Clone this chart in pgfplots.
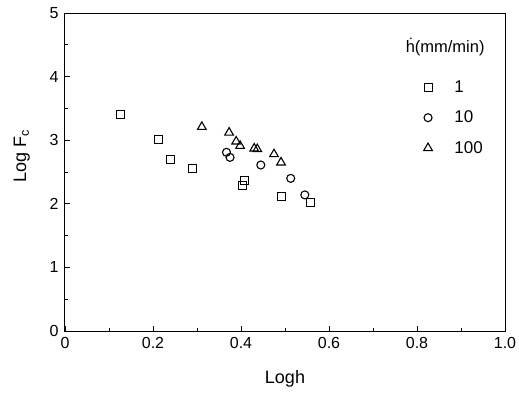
\documentclass[border=0pt]{standalone}
\usepackage{fontspec}
\setmainfont{Liberation Sans}
\usepackage{pgfplots}
\pgfplotsset{compat=1.18}
\begin{document}
\begin{tikzpicture}
\useasboundingbox (0pt,0pt) rectangle (519pt,392pt);
\begin{axis}[
  at={(65pt,61pt)}, anchor=south west,
  scale only axis, width=440pt, height=318pt,
  xmin=0, xmax=1, ymin=0, ymax=5,
  xtick={0,0.2,0.4,0.6,0.8,1.0},
  xticklabels={0,0.2,0.4,0.6,0.8,1.0},
  minor xtick={0.1,0.3,0.5,0.7,0.9},
  ytick={0,1,2,3,4,5},
  minor ytick={0.5,1.5,2.5,3.5,4.5},
  tick align=inside,
  xtick pos=bottom, ytick pos=left,
  major tick length=5pt, minor tick length=3pt,
  tick style={black, line width=0.9pt},
  axis line style={line width=1pt},
  /pgf/number format/assume math mode=true,
  tick label style={font=\fontsize{16}{18}\selectfont},
  xticklabel style={yshift=-3pt},
  yticklabel style={xshift=-3pt},
  xlabel={Logh}, ylabel={Log F$_{\mathrm{c}}$},
  label style={font=\fontsize{18}{20}\selectfont},
  xlabel style={at={(axis description cs:0.5,-0.152)}, anchor=center},
  ylabel style={at={(axis description cs:-0.098,0.55)}, anchor=center},
  legend style={at={(rel axis cs:0.808,0.80)}, anchor=north west, draw=none, fill=none,
    font=\fontsize{17}{19}\selectfont, row sep=13pt,
    /tikz/every odd column/.append style={column sep=20pt}},
  legend cell align=left,
]
\addplot[only marks, mark=square, mark size=4pt, line width=1.1pt] coordinates {
  (0.127,3.40) (0.213,3.01) (0.239,2.70) (0.289,2.56) (0.408,2.37) (0.403,2.29) (0.492,2.11) (0.557,2.02)
};
\addlegendentry{1}
\addplot[only marks, mark=o, mark size=4pt, line width=1.1pt] coordinates {
  (0.367,2.81) (0.375,2.73) (0.445,2.61) (0.513,2.40) (0.545,2.14)
};
\addlegendentry{10}
\addplot[only marks, mark=triangle, mark size=5pt, line width=1.1pt] coordinates {
  (0.311,3.21) (0.373,3.12) (0.389,2.98) (0.398,2.91) (0.430,2.87) (0.437,2.86) (0.475,2.78) (0.491,2.65)
};
\addlegendentry{100}
\node[font=\fontsize{16.5}{18}\selectfont] at (rel axis cs:0.864,0.893) {\.{h}(mm/min)};
\end{axis}
\end{tikzpicture}
\end{document}
